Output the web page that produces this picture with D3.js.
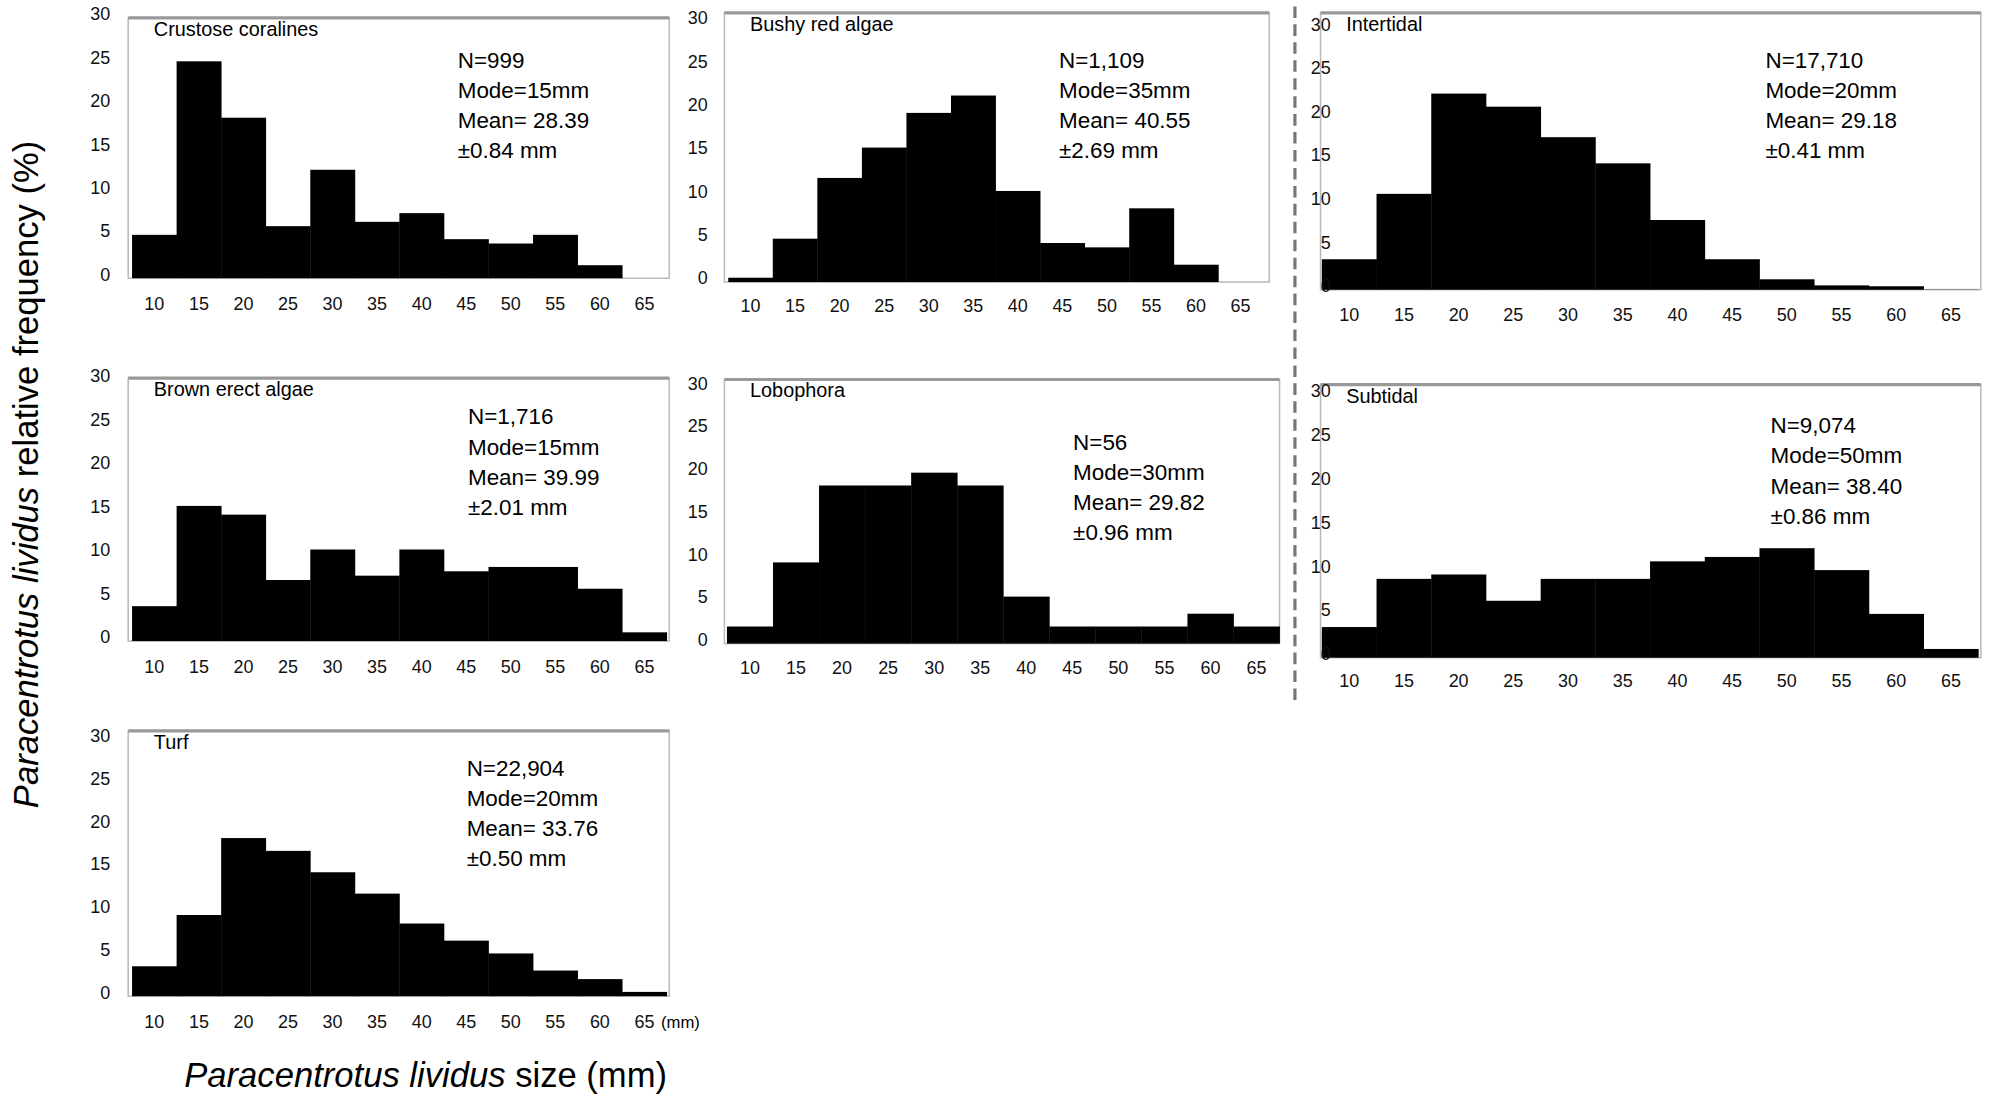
<!DOCTYPE html>
<html><head><meta charset="utf-8">
<script src="https://cdn.jsdelivr.net/npm/d3@7"></script>
<style>body{margin:0;background:#fff}text{font-family:Arial,"Liberation Sans",sans-serif}</style>
</head><body><svg id="c" width="2000" height="1097"></svg>
<script>
const sizes = [10, 15, 20, 25, 30, 35, 40, 45, 50, 55, 60, 65];
const yTicks = [0, 5, 10, 15, 20, 25, 30];
const crustose = [5, 25, 18.5, 6, 12.5, 6.5, 7.5, 4.5, 4, 5, 1.5, 0];
const bushy = [0.5, 5, 12, 15.5, 19.5, 21.5, 10.5, 4.5, 4, 8.5, 2, 0];
const intertidal = [3.5, 11, 22.5, 21, 17.5, 14.5, 8, 3.5, 1.2, 0.5, 0.4, 0.1];
const brown = [4, 15.5, 14.5, 7, 10.5, 7.5, 10.5, 8, 8.5, 8.5, 6, 1];
const lobophora = [2, 9.5, 18.5, 18.5, 20, 18.5, 5.5, 2, 2, 2, 3.5, 2];
const subtidal = [3.5, 9, 9.5, 6.5, 9, 9, 11, 11.5, 12.5, 10, 5, 1];
const turf = [3.5, 9.5, 18.5, 17, 14.5, 12, 8.5, 6.5, 5, 3, 2, 0.5];

const panels = [
  {name: "Crustose coralines", vals: crustose, stats: ["N=999", "Mode=15mm", "Mean= 28.39", "±0.84 mm"],
   x0: 103, x1: 520, fr: [100, 522, 14], y0: 217, y30: 14, ylx: 86, xly: 242, sx: 357, sy: 53},
  {name: "Bushy red algae", vals: bushy, stats: ["N=1,109", "Mode=35mm", "Mean= 40.55", "±2.69 mm"],
   x0: 568, x1: 985, fr: [565, 990, 10], y0: 220, y30: 17, ylx: 552, xly: 243, sx: 826, sy: 53},
  {name: "Intertidal", vals: intertidal, stats: ["N=17,710", "Mode=20mm", "Mean= 29.18", "±0.41 mm"],
   x0: 1031, x1: 1543, fr: [1030, 1545, 10], y0: 226, y30: 22, ylx: 1038, xly: 250, sx: 1377, sy: 53},
  {name: "Brown erect algae", vals: brown, stats: ["N=1,716", "Mode=15mm", "Mean= 39.99", "±2.01 mm"],
   x0: 103, x1: 520, fr: [100, 522, 295], y0: 500, y30: 296, ylx: 86, xly: 525, sx: 365, sy: 331},
  {name: "Lobophora", vals: lobophora, stats: ["N=56", "Mode=30mm", "Mean= 29.82", "±0.96 mm"],
   x0: 567, x1: 998, fr: [565, 998, 296], y0: 502, y30: 302, ylx: 552, xly: 526, sx: 837, sy: 351},
  {name: "Subtidal", vals: subtidal, stats: ["N=9,074", "Mode=50mm", "Mean= 38.40", "±0.86 mm"],
   x0: 1031, x1: 1543, fr: [1030, 1545, 300], y0: 513, y30: 308, ylx: 1038, xly: 536, sx: 1381, sy: 338},
  {name: "Turf", vals: turf, stats: ["N=22,904", "Mode=20mm", "Mean= 33.76", "±0.50 mm"],
   x0: 103, x1: 520, fr: [100, 522, 570], y0: 777, y30: 577, ylx: 86, xly: 802, sx: 364, sy: 605, mm: true}
];

const root = d3.select("#c").append("g").attr("transform", "scale(1.2821)");

panels.forEach(p => {
  const g = root.append("g");
  const x = d3.scaleLinear().domain([7.5, 67.5]).range([p.x0, p.x1]);
  const y = d3.scaleLinear().domain([0, 30]).range([p.y0, p.y30]);
  g.append("rect").attr("x", p.fr[0]).attr("y", p.fr[2])
    .attr("width", p.fr[1] - p.fr[0]).attr("height", p.y0 - p.fr[2])
    .attr("fill", "none").attr("stroke", "#bbb").attr("stroke-width", 1.2);
  g.append("line").attr("x1", p.fr[0]).attr("x2", p.fr[1]).attr("y1", p.fr[2]).attr("y2", p.fr[2])
    .attr("stroke", "#999").attr("stroke-width", 2.5);
  g.selectAll("rect.bar").data(p.vals).join("rect").attr("class", "bar")
    .attr("x", (d, i) => x(sizes[i] - 2.5)).attr("width", x(12.5) - x(7.5) + 0.3)
    .attr("y", d => y(d)).attr("height", d => y(0) - y(d))
    .attr("fill", (d, i) => i === 11 && p.name === "Intertidal" ? "#888" : "#000");
  g.selectAll("text.yl").data(yTicks).join("text").attr("class", "yl")
    .attr("x", p.ylx).attr("y", d => y(d) - 3 + (p.y0 - p.y30) * 0 ).attr("dy", "0.35em")
    .attr("text-anchor", "end").attr("font-size", 14).attr("fill", "#111").text(d => d);
  g.selectAll("text.xl").data(sizes).join("text").attr("class", "xl")
    .attr("x", d => x(d)).attr("y", p.xly).attr("text-anchor", "middle")
    .attr("font-size", 14).attr("fill", "#111").text(d => d);
  if (p.mm) g.append("text").attr("x", x(65) + 13).attr("y", p.xly).attr("font-size", 13).text("(mm)");
  g.append("text").attr("x", p.fr[0] + 20).attr("y", p.fr[2] + 14).attr("font-size", 15.5).text(p.name);
  g.selectAll("text.st").data(p.stats).join("text").attr("class", "st")
    .attr("x", p.sx).attr("y", (d, i) => p.sy + i * 23.5).attr("font-size", 17.5).text(d => d);
});

root.append("line").attr("x1", 1010).attr("x2", 1010).attr("y1", 5).attr("y2", 548)
  .attr("stroke", "#777").attr("stroke-width", 2.5).attr("stroke-dasharray", "9,5");

const yt = root.append("text").attr("transform", "translate(30,370) rotate(-90)")
  .attr("text-anchor", "middle").attr("font-size", 27);
yt.append("tspan").attr("font-style", "italic").text("Paracentrotus lividus");
yt.append("tspan").text(" relative frequency (%)");
const xt = root.append("text").attr("x", 332).attr("y", 848)
  .attr("text-anchor", "middle").attr("font-size", 27);
xt.append("tspan").attr("font-style", "italic").text("Paracentrotus lividus");
xt.append("tspan").text(" size (mm)");
</script></body></html>
